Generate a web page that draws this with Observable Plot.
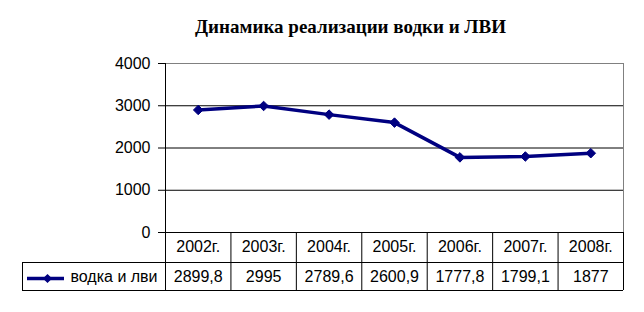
<!DOCTYPE html>
<html>
<head>
<meta charset="utf-8">
<script src="https://cdn.jsdelivr.net/npm/d3@7"></script>
<script src="https://cdn.jsdelivr.net/npm/@observablehq/plot@0.6"></script>
<style>
  html, body { margin: 0; padding: 0; background: #fff; }
  #chart { width: 644px; height: 312px; }
</style>
</head>
<body>
<div id="chart"></div>
<script>
const title = "Динамика реализации водки и ЛВИ";
const seriesName = "водка и лви";
const years = ["2002г.", "2003г.", "2004г.", "2005г.", "2006г.", "2007г.", "2008г."];
const values = [2899.8, 2995, 2789.6, 2600.9, 1777.8, 1799.1, 1877];
const yTicks = [0, 1000, 2000, 3000, 4000];

const navy = "#000080";
const edges = years.map((d, i) => i - 0.5).concat([years.length - 0.5]);
const valueLabels = values.map(v => String(v).replace(".", ","));
const data = years.map((y, i) => ({i, year: y, value: values[i], label: valueLabels[i]}));

const chart = Plot.plot({
  width: 644,
  height: 312,
  marginTop: 63,
  marginLeft: 165,
  marginRight: 21,
  marginBottom: 80,
  style: {fontFamily: "'Liberation Sans', Arial, sans-serif", fontSize: "16px", color: "black", background: "white"},
  x: {domain: [-0.5, years.length - 0.5], axis: null},
  y: {domain: [0, 4000], axis: null},
  marks: [
    // gridlines
    Plot.ruleY(yTicks.filter(t => t > 0 && t < 4000), {stroke: "black", strokeWidth: 1}),
    Plot.ruleY([4000], {stroke: "#808080", strokeWidth: 1}),
    Plot.ruleX([years.length - 0.5], {stroke: "#808080", strokeWidth: 1}),
    Plot.ruleX([-0.5], {stroke: "black", strokeWidth: 1}),
    Plot.ruleY([0], {stroke: "black", strokeWidth: 1}),
    // y axis
    Plot.axisY({ticks: yTicks, tickFormat: d3.format("d"), label: null, tickSize: 7, tickPadding: 8, fontSize: 16, stroke: "black", fill: "black", letterSpacing: "0.4px"}),
    // data table borders
    Plot.ruleX(edges, {x: d => d, stroke: "black", insetTop: 169, insetBottom: -58}),
    Plot.ruleX([-0.5], {stroke: "black", dx: -143, insetTop: 199, insetBottom: -58}),
    Plot.ruleY([0], {stroke: "black", dy: 30, insetLeft: -143}),
    Plot.ruleY([0], {stroke: "black", dy: 58, insetLeft: -143}),
    // table text
    Plot.text(data, {x: "i", text: "year", frameAnchor: "bottom", lineAnchor: "middle", dy: 14, fontSize: 16, fill: "black", letterSpacing: "0.6px"}),
    Plot.text(data, {x: "i", text: "label", frameAnchor: "bottom", lineAnchor: "middle", dy: 44, fontSize: 16, fill: "black", letterSpacing: "0.6px"}),
    // legend in table
    Plot.ruleY([0], {stroke: navy, strokeWidth: 3.5, dy: 46, insetLeft: -138, insetRight: 559}),
    Plot.dot([0], {x: () => -0.5, frameAnchor: "bottom", dx: -118, dy: 46, symbol: "diamond2", r: 3.2, fill: navy, stroke: navy}),
    Plot.text([seriesName], {x: () => -0.5, frameAnchor: "bottom", lineAnchor: "middle", dx: -95, dy: 44, textAnchor: "start", fontSize: 16, fill: "black", letterSpacing: "0.2px"}),
    // series
    Plot.line(data, {x: "i", y: "value", stroke: navy, strokeWidth: 3.5}),
    Plot.dot(data, {x: "i", y: "value", symbol: "diamond2", r: 4.3, fill: navy, stroke: navy, strokeWidth: 1}),
    // title
    Plot.text([title], {frameAnchor: "top", lineAnchor: "middle", dx: -44, dy: -37, fontFamily: "'Liberation Serif', 'Times New Roman', serif", fontWeight: "bold", fontSize: 19, fill: "black"})
  ]
});
document.getElementById("chart").appendChild(chart);
</script>
</body>
</html>
